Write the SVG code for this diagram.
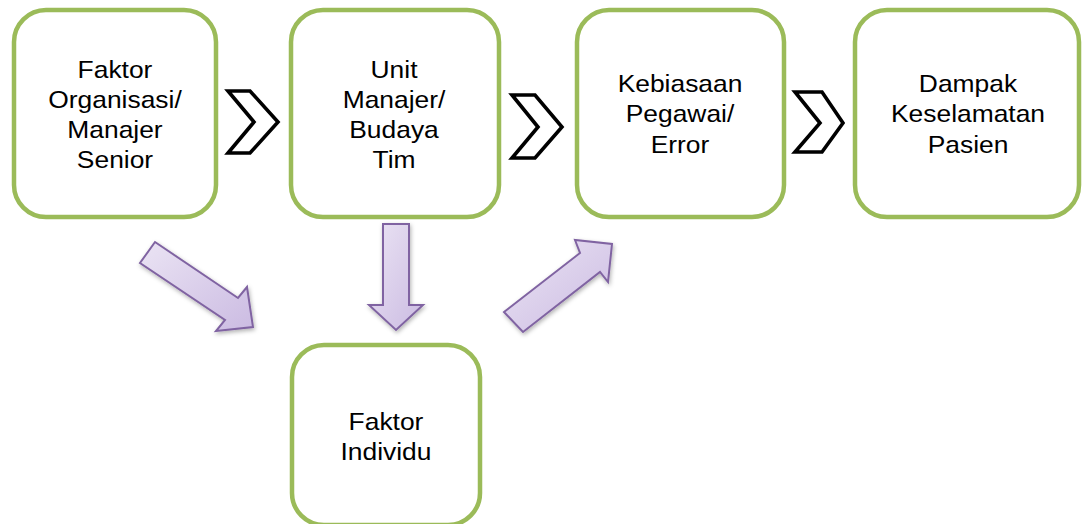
<svg xmlns="http://www.w3.org/2000/svg" width="1085" height="524" viewBox="0 0 1085 524">
<defs>
<style>
.box{fill:#ffffff;stroke:#9bbb59;stroke-width:4.5}
.lbl{font-family:"Liberation Sans",Arial,sans-serif;font-size:24px;fill:#000;text-anchor:middle}
.chev{fill:#ffffff;stroke:#000;stroke-width:3.6;stroke-linejoin:miter}
.arr{fill:url(#pg);stroke:#8064a2;stroke-width:2;stroke-linejoin:miter;filter:url(#sh)}
</style>
<linearGradient id="pg" x1="0" y1="0" x2="1" y2="1">
<stop offset="0" stop-color="#ebe4f4"/>
<stop offset="1" stop-color="#cbbbe2"/>
</linearGradient>
<filter id="sh" x="-20%" y="-20%" width="140%" height="140%">
<feDropShadow dx="1" dy="2" stdDeviation="2" flood-color="#000" flood-opacity="0.3"/>
</filter>
</defs>
<g id="connectors">
<polygon class="chev" points="228,91 250,91 278,122 250,153 228,153 254,122"/>
<polygon class="chev" points="512,95 535,95 562,127 535,158 512,158 538,127"/>
<polygon class="chev" points="795,92 822,92 843,123 822,152 795,152 820,123"/>
<polygon class="arr" points="155,242 238,298 247,287 253,327 216,331 225,320 140,263"/>
<polygon class="arr" points="383,224 409,224 409,305 423,305 396,330 369,305 383,305"/>
<polygon class="arr" points="504,312 580,253 575,240 612,244 608,282 600,272 523,332"/>
</g>
<g id="node1">
<rect class="box" x="14" y="10" width="202" height="207" rx="32"/>
<g transform="translate(115,0) scale(1.1,1)">
<text class="lbl" x="0" y="78">Faktor</text>
<text class="lbl" x="0" y="108">Organisasi/</text>
<text class="lbl" x="0" y="138">Manajer</text>
<text class="lbl" x="0" y="168">Senior</text>
</g>
</g>
<g id="node2">
<rect class="box" x="291" y="10" width="208" height="207" rx="32"/>
<g transform="translate(394,0) scale(1.1,1)">
<text class="lbl" x="0" y="78">Unit</text>
<text class="lbl" x="0" y="108">Manajer/</text>
<text class="lbl" x="0" y="138">Budaya</text>
<text class="lbl" x="0" y="168">Tim</text>
</g>
</g>
<g id="node3">
<rect class="box" x="577" y="10" width="207" height="207" rx="32"/>
<g transform="translate(680,0) scale(1.1,1)">
<text class="lbl" x="0" y="92">Kebiasaan</text>
<text class="lbl" x="0" y="122">Pegawai/</text>
<text class="lbl" x="0" y="153">Error</text>
</g>
</g>
<g id="node4">
<rect class="box" x="855" y="10" width="224" height="207" rx="32"/>
<g transform="translate(968,0) scale(1.1,1)">
<text class="lbl" x="0" y="92">Dampak</text>
<text class="lbl" x="0" y="122">Keselamatan</text>
<text class="lbl" x="0" y="153">Pasien</text>
</g>
</g>
<g id="node5">
<rect class="box" x="292" y="345" width="188" height="180" rx="32"/>
<g transform="translate(386,0) scale(1.1,1)">
<text class="lbl" x="0" y="430">Faktor</text>
<text class="lbl" x="0" y="460">Individu</text>
</g>
</g>
</svg>
